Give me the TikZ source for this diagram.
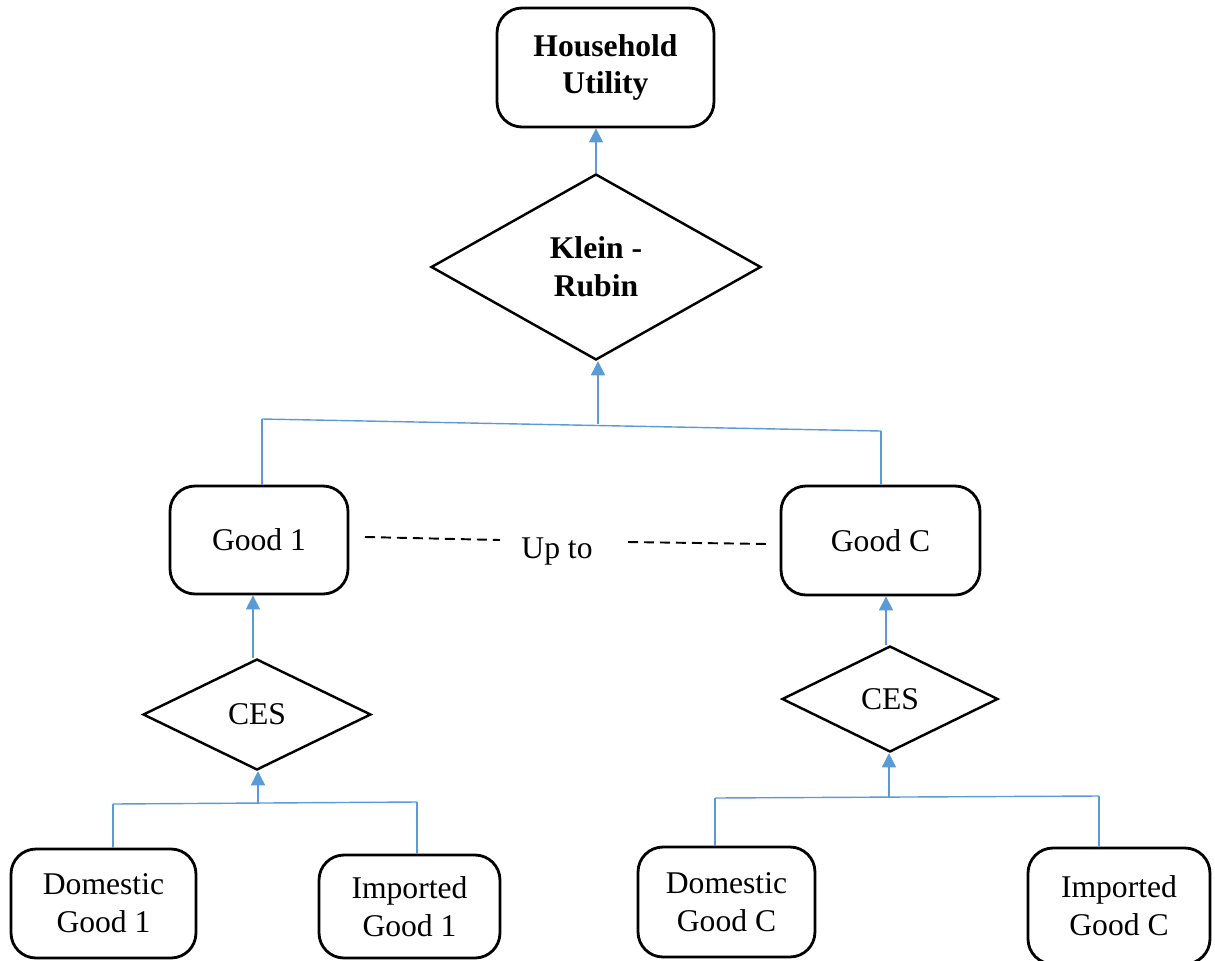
\documentclass[tikz,border=0pt]{standalone}
\usepackage{fontspec}
\setmainfont{Liberation Serif}
\usetikzlibrary{shapes.geometric,arrows.meta}
\definecolor{linkblue}{HTML}{5B9BD5}
\tikzset{
  box/.style={draw=black, line width=1.6pt, rounded corners=0.5cm, align=center, inner sep=0pt,
    font=\fontsize{18}{21.5}\selectfont},
  dia/.style={draw=black, line width=1.4pt, shape=diamond, align=center, inner sep=0pt,
    font=\fontsize{18}{21.5}\selectfont},
  link/.style={draw=linkblue, line width=0.8pt},
  arr/.style={link, -{Triangle[width=8pt,length=8pt]}},
  dots/.style={line width=1.1pt, dash pattern=on 5.7pt off 3.4pt}
}
\begin{document}
\begin{tikzpicture}[x=0.02cm, y=-0.02cm]
\useasboundingbox (0,0) rectangle (1215,961);
% boxes
\node[box, minimum width=4.34cm, minimum height=2.38cm, font=\fontsize{18}{21.5}\selectfont\bfseries] (hu) at (605.5,67.5) {Household\\Utility};
\node[dia, minimum width=6.6cm, minimum height=3.72cm, font=\fontsize{18}{21.5}\selectfont\bfseries] (kr) at (596,267) {Klein -\\Rubin};
\node[box, minimum width=3.56cm, minimum height=2.16cm] (g1) at (259,540) {Good 1};
\node[box, minimum width=3.98cm, minimum height=2.18cm] (gc) at (880.5,540.5) {Good C};
\node[font=\fontsize{18}{21.5}\selectfont] (upto) at (557,552) {Up to};
\node[dia, minimum width=4.56cm, minimum height=2.22cm] (ces1) at (257,714.5) {CES};
\node[dia, minimum width=4.32cm, minimum height=2.12cm] (ces2) at (890,699) {CES};
\node[box, minimum width=3.7cm, minimum height=2.18cm] (dg1) at (103.5,903.5) {Domestic\\Good 1};
\node[box, minimum width=3.62cm, minimum height=2.06cm] (ig1) at (409.5,906.5) {Imported\\Good 1};
\node[box, minimum width=3.54cm, minimum height=2.2cm] (dgc) at (726.5,902) {Domestic\\Good C};
\node[box, minimum width=3.64cm, minimum height=2.32cm] (igc) at (1119,906) {Imported\\Good C};
% junction coordinates
\coordinate (tL) at (262,419);
\coordinate (tR) at (881,431);
\coordinate (tM) at (598,424);
\coordinate (aL) at (113,804);
\coordinate (aR) at (417,802);
\coordinate (aM) at (258,803);
\coordinate (bL) at (715,798);
\coordinate (bR) at (1099,796);
\coordinate (bM) at (889,797);
% dashed line ends
\coordinate (d1a) at (365,537);
\coordinate (d1b) at (500,540);
\coordinate (d2a) at (628,542);
\coordinate (d2b) at (768,544);
% connectors
\draw[arr] (kr.north) -- (kr.north |- hu.south);
\draw[link] (tL) -- (tR);
\draw[link] (tL) -- (tL |- g1.north);
\draw[link] (tR) -- (tR |- gc.north);
\draw[arr] (tM) -- (tM |- kr.south);
\draw[arr] ([xshift=-0.08cm]ces1.north) -- ([xshift=-0.08cm]ces1.north |- g1.south);
\draw[arr] ([xshift=-0.08cm]ces2.north) -- ([xshift=-0.08cm]ces2.north |- gc.south);
\draw[link] (aL) -- (aR);
\draw[link] (aL) -- (aL |- dg1.north);
\draw[link] (aR) -- (aR |- ig1.north);
\draw[arr] (aM) -- (aM |- ces1.south);
\draw[link] (bL) -- (bR);
\draw[link] (bL) -- (bL |- dgc.north);
\draw[link] (bR) -- (bR |- igc.north);
\draw[arr] (bM) -- (bM |- ces2.south);
\draw[dots] (d1a) -- (d1b);
\draw[dots] (d2a) -- (d2b);
\end{tikzpicture}
\end{document}
